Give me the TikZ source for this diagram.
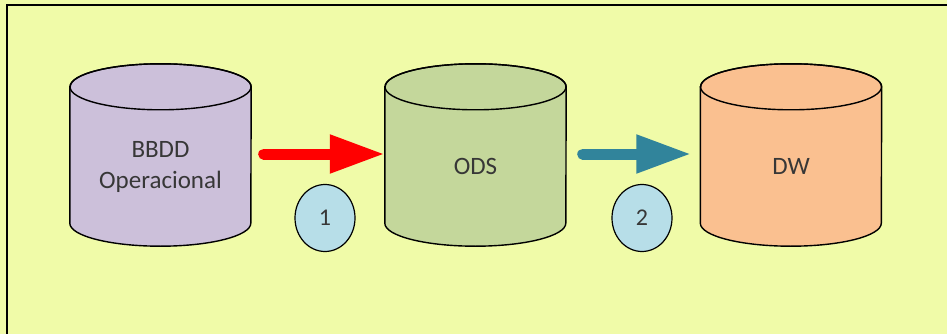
\documentclass[tikz,border=0pt]{standalone}
\usepackage{fontspec}
\setmainfont{Carlito}
\usetikzlibrary{shapes.geometric,arrows.meta}
\definecolor{fondo}{RGB}{240,251,168}
\definecolor{lila}{RGB}{204,192,218}
\definecolor{verde}{RGB}{196,215,155}
\definecolor{naranja}{RGB}{250,192,144}
\definecolor{celeste}{RGB}{183,222,232}
\definecolor{azulado}{RGB}{49,132,155}
\definecolor{texto}{RGB}{55,55,55}
% cuerpo de un cilindro alrededor del nodo #1
\newcommand\cilindro[2]{%
  \draw[fill=#2,line width=1.4pt] (#1.north west) -- ([yshift=23pt]#1.south west)
    arc[start angle=180,end angle=360,x radius=90.5pt,y radius=23pt]
    -- (#1.north east)
    arc[start angle=0,end angle=180,x radius=90.5pt,y radius=23pt] -- cycle;
  \draw[line width=1.4pt] (#1.north) ellipse[x radius=90.5pt,y radius=23pt];}
\begin{document}
\begin{tikzpicture}[x=1pt,y=-1pt,
  base/.style={minimum width=181pt,minimum height=159pt,inner sep=0pt,
    text=texto,font=\fontsize{25}{31}\selectfont,align=center},
  paso/.style={draw=black,line width=1.2pt,fill=celeste,ellipse,
    minimum width=60pt,minimum height=67pt,inner sep=0pt,
    text=texto,font=\fontsize{24}{30}\selectfont},
  flecha/.style={line width=11pt,line cap=round,
    -{Triangle[length=55pt,width=36pt]}}]
\clip (0,0) rectangle (947,334);
\fill[fondo] (0,0) rectangle (947,334);
\draw[line width=2pt] (7,5) rectangle (960,345);
\path (160.5,166.5) node[base] (bbdd) {} (475.5,166.5) node[base] (ods) {}
  (791,166.5) node[base] (dw) {};
\cilindro{bbdd}{lila}
\cilindro{ods}{verde}
\cilindro{dw}{naranja}
\node[base] at (bbdd) {BBDD\\Operacional};
\node[base] at (ods) {ODS};
\node[base] at (dw) {DW};
\node[paso] (paso1) at (325,218) {1};
\node[paso] (paso2) at (642,218) {2};
\draw[flecha,red,shorten <=12.5pt] ([yshift=12.5pt]bbdd.east) -- ([yshift=12.5pt]ods.west);
\draw[flecha,azulado,shorten <=16.5pt,shorten >=9pt] ([yshift=12.5pt]ods.east) -- ([yshift=12.5pt]dw.west);
\end{tikzpicture}
\end{document}
